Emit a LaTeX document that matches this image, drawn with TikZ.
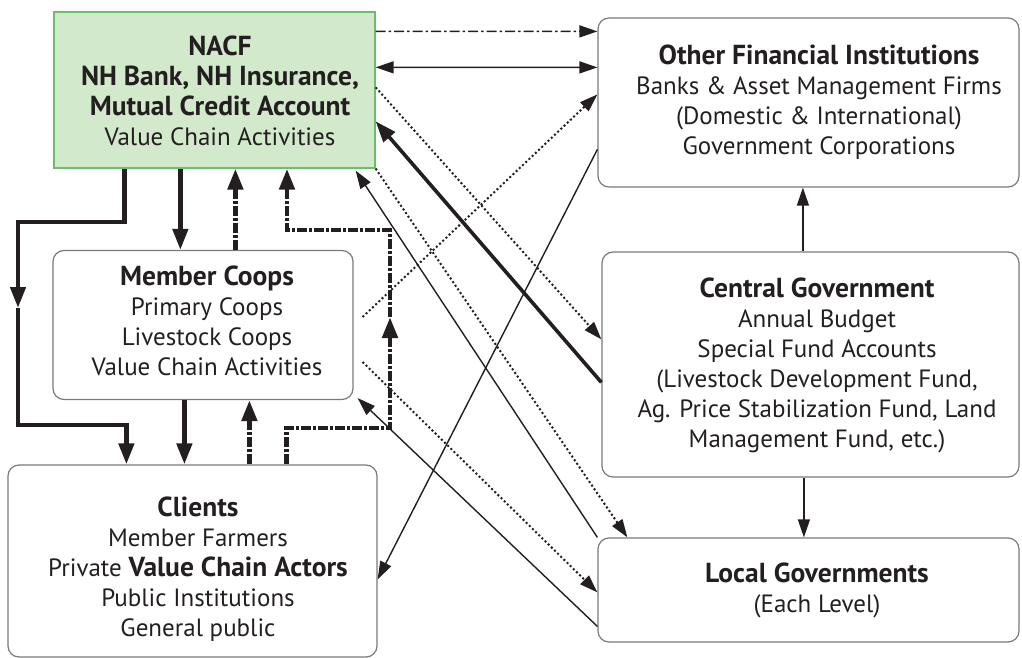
\documentclass[tikz,border=0pt]{standalone}
\usepackage{fontspec}
\setmainfont{PT Sans}[BoldFeatures={Scale=1.1}]
\usetikzlibrary{arrows.meta}
\definecolor{ink}{HTML}{231F20}
\definecolor{boxgray}{HTML}{7A7A7A}
\definecolor{nacffill}{HTML}{D2E9CB}
\definecolor{nacfline}{HTML}{6CBF69}
\tikzset{
  box/.style={draw=boxgray, line width=1.2pt, rounded corners=11pt, inner sep=0pt},
  lbl/.style={align=center, inner sep=0pt, text=ink, font=\fontsize{25}{30}\selectfont},
  thinline/.style={draw=ink, line width=1.4pt},
  dotline/.style={draw=ink, line width=2pt, dash pattern=on 2pt off 2.4pt},
  dashdotthin/.style={draw=ink, line width=1.6pt, dash pattern=on 10pt off 3pt on 2.5pt off 3pt},
  heavy/.style={draw=ink, line width=4.5pt},
  heavydd/.style={draw=ink, line width=4.8pt, dash pattern=on 10pt off 2pt on 3pt off 2pt},
  mid/.style={draw=ink, line width=3.6pt},
  tipa/.style={-{Triangle[length=18pt,width=12pt]}},
  tipb/.style={{Triangle[length=18pt,width=12pt]}-{Triangle[length=18pt,width=12pt]}},
  tipc/.style={-{Triangle[length=21pt,width=15pt]}},
}
\begin{document}
\begin{tikzpicture}[x=1pt,y=-1pt]
\useasboundingbox (0,0) rectangle (1022,658);

% boxes
\node[draw=nacfline, fill=nacffill, line width=1.3pt, inner sep=0pt, minimum width=321pt, minimum height=156pt] (nacf) at (214.5,90) {};
\node[box, minimum width=421pt, minimum height=169pt] (ofi) at (808.5,102.5) {};
\node[box, minimum width=417pt, minimum height=225pt] (central) at (810.5,364.5) {};
\node[box, minimum width=421pt, minimum height=104pt] (local) at (808.5,590) {};
\node[box, minimum width=300pt, minimum height=149pt] (coops) at (203,325) {};
\node[box, minimum width=369pt, minimum height=192pt] (clients) at (192.5,561) {};

% texts
\node[lbl] (nacft) at (220,91) {\textbf{NACF}\\\textbf{NH Bank, NH Insurance,}\\\textbf{Mutual Credit Account}\\Value Chain Activities};
\node[lbl] (ofit) at (819,102) {\textbf{Other Financial Institutions}\\Banks \& Asset Management Firms\\(Domestic \& International)\\Government Corporations};
\node[lbl] (coopst) at (207,321) {\textbf{Member Coops}\\Primary Coops\\Livestock Coops\\Value Chain Activities};
\node[lbl] (centralt) at (817,365) {\textbf{Central Government}\\Annual Budget\\Special Fund Accounts\\(Livestock Development Fund,\\Ag. Price Stabilization Fund, Land\\Management Fund, etc.)};
\node[lbl] (localt) at (817,590) {\textbf{Local Governments}\\(Each Level)};
\node[lbl] (clientst) at (198,569) {\textbf{Clients}\\Member Farmers\\Private \textbf{Value Chain Actors}\\Public Institutions\\General public};

% right-side connectors
\draw[dashdotthin, tipa] ([yshift=-20pt]nacf.north east) -- ([yshift=-14pt]ofi.north west);
\draw[thinline, tipb] ([yshift=-56pt]nacf.north east) -- ([yshift=-50pt]ofi.north west);
\draw[dotline, tipa] ([yshift=-76pt]nacf.north east) -- ([yshift=-88pt]central.north west);
\draw[dotline, tipa] ([shift={(9pt,8pt)}]coops.east) -- ([yshift=-77pt]ofi.north west);
\draw[mid, tipc] ([yshift=-131pt]central.north west) -- ([yshift=-110pt]nacf.north east);
\draw[thinline, tipa] (local.north west) -- ([shift={(-20pt,-2pt)}]nacf.south east);
\draw[thinline, tipa] ([yshift=-89pt]local.north west) -- ([shift={(4pt,2pt)}]coops.south east);
\draw[dotline, tipa] ([shift={(9pt,-37pt)}]coops.east) -- ([yshift=-55pt]local.north west);
\draw[dotline, tipa] (nacf.south east) -- ([xshift=30pt]local.north west);
\draw[thinline, tipa] ([yshift=-132pt]ofi.north west) -- ([yshift=-115pt]clients.north east);

\coordinate (cgt) at ([xshift=201.5pt]central.north west);
\coordinate (cgb) at ([xshift=202.5pt]central.south west);
\draw[thinline, tipa] (cgt) -- (cgt |- ofi.south);
\draw[thinline, tipa] (cgb) -- (cgb |- local.north);

% left-side connectors
\coordinate (k1) at (18,222);
\coordinate (m1) at (18,308);
\coordinate (k2) at (18,425);
\draw[heavy, tipc] ([xshift=71pt]nacf.south west) |- (k1) -- (m1);
\draw[heavy, tipc] (m1) -- (k2) -| ([xshift=119pt]clients.north west);

\coordinate (a1) at ([xshift=127pt]nacf.south west);
\draw[heavy, tipc] (a1) -- (a1 |- coops.north);
\coordinate (a2) at ([xshift=183pt]coops.north west);
\draw[heavydd, tipc] (a2) -- (a2 |- nacf.south);
\coordinate (a3) at ([xshift=132pt]coops.south west);
\draw[heavy, tipc] (a3) -- (a3 |- clients.north);
\coordinate (a4) at ([xshift=242pt]clients.north west);
\draw[heavydd, tipc] (a4) -- (a4 |- coops.south);

\coordinate (b1) at ([xshift=279pt]clients.north west);
\coordinate (b2) at (390,428);
\coordinate (b3) at (390,317);
\coordinate (b4) at (390,230);
\coordinate (b5) at (287,230);
\draw[heavydd, tipc] (b1) |- (b2) -- (b3);
\draw[heavydd, tipc] (b3) -- (b4) -| (b5 |- nacf.south);
\end{tikzpicture}
\end{document}
